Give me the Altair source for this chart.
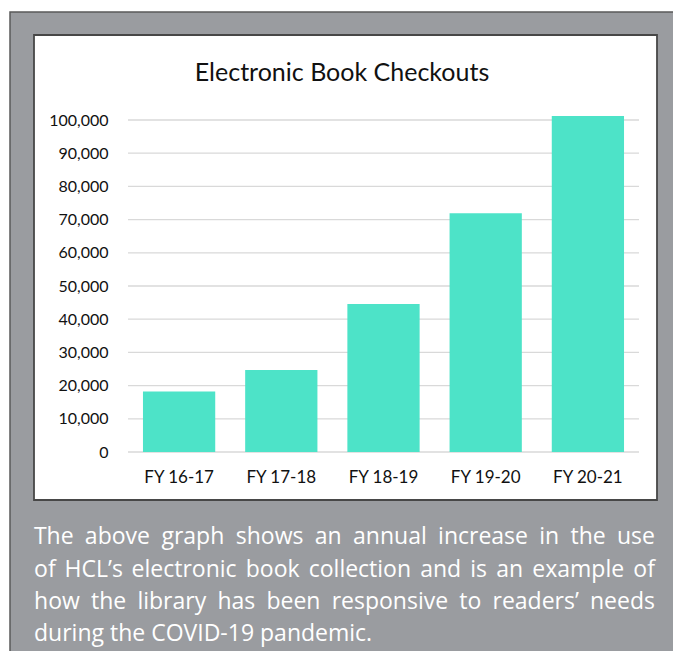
import altair as alt
import pandas as pd

# ---- data ----
years = ["FY 16-17", "FY 17-18", "FY 18-19", "FY 19-20", "FY 20-21"]
checkouts = [18200, 24700, 44600, 71900, 101200]
grid_values = [0, 10000, 20000, 30000, 40000, 50000, 60000, 70000, 80000, 90000, 100000]
title_text = "Electronic Book Checkouts"
caption_lines = [
    "The above graph shows an annual increase in the use",
    "of HCL\u2019s electronic book collection and is an example of",
    "how the library has been responsive to readers\u2019 needs",
    "during the COVID-19 pandemic.",
]

# ---- layout (page pixels) ----
PL, PT = 128, 120          # plot origin on page
W, H = 511, 332
FS = 23
CAP_LEFT, CAP_RIGHT = 34, 655
CAP_BASE = [544, 577, 609, 641]

# approx Open Sans advance widths (em)
cw = {
    'a': .556, 'b': .613, 'c': .476, 'd': .613, 'e': .561, 'f': .339, 'g': .548, 'h': .614,
    'i': .253, 'j': .253, 'k': .525, 'l': .253, 'm': .930, 'n': .614, 'o': .604, 'p': .613,
    'q': .613, 'r': .408, 's': .477, 't': .353, 'u': .614, 'v': .501, 'w': .778, 'x': .524,
    'y': .502, 'z': .468, 'T': .542, 'H': .722, 'C': .631, 'L': .511, 'O': .781, 'V': .589,
    'I': .278, 'D': .713, '-': .322, '1': .572, '9': .572, '.': .266, '\u2019': .170,
}


def wwidth(word):
    return sum(cw.get(ch, .55) for ch in word) * FS


rows = []
for li, line in enumerate(caption_lines[:3]):
    words = line.split(" ")
    widths = [wwidth(w) for w in words]
    gap = (CAP_RIGHT - CAP_LEFT - sum(widths)) / (len(words) - 1)
    x = CAP_LEFT
    for w, wd in zip(words, widths):
        rows.append({"word": w, "px": x + wd / 2 - PL, "py": CAP_BASE[li] - PT})
        x += wd + gap
words_df = pd.DataFrame(rows)

bars_df = pd.DataFrame({"year": years, "checkouts": checkouts})
grid_df = pd.DataFrame({"g": grid_values})

GRAY = "#9a9ca0"
BAR = "#4de3c8"

outer = alt.Chart(pd.DataFrame({"a": [0]})).mark_rect(
    fill=GRAY, stroke="#5a5a5a", strokeWidth=1.5
).encode(
    x=alt.value(10 - PL), x2=alt.value(679 - PL),
    y=alt.value(12 - PT), y2=alt.value(700 - PT),
)

panel = alt.Chart(pd.DataFrame({"a": [0]})).mark_rect(
    fill="white", stroke="#474747", strokeWidth=1.8
).encode(
    x=alt.value(34 - PL), x2=alt.value(657 - PL),
    y=alt.value(35 - PT), y2=alt.value(500 - PT),
)

ydom = alt.Scale(domain=[0, 100000], nice=False)

grid = alt.Chart(grid_df).mark_rule(color="#d9d9d9", strokeWidth=1.3).encode(
    y=alt.Y("g:Q", scale=ydom, axis=None),
    x=alt.value(0), x2=alt.value(W),
)

bars = alt.Chart(bars_df).mark_bar(color=BAR).encode(
    x=alt.X("year:N", sort=years, title="",
            scale=alt.Scale(paddingInner=0.293, paddingOuter=0.1465),
            axis=alt.Axis(labelAngle=0, domain=False, ticks=False, tickSize=0, grid=False,
                          labelFont="Lato", labelFontSize=17, labelColor="#111111",
                          labelPadding=17, zindex=1)),
    y=alt.Y("checkouts:Q", scale=ydom, title="",
            axis=alt.Axis(values=grid_values, format=",d", domain=False, ticks=False,
                          tickSize=0, grid=False, labelFont="Lato", labelFontSize=16,
                          labelColor="#111111", labelPadding=20, zindex=1)),
)

title = alt.Chart(pd.DataFrame({"t": [title_text]})).mark_text(
    font="Lato", fontSize=25, color="#111111", align="center", baseline="alphabetic"
).encode(
    text="t:N", x=alt.value(342 - PL), y=alt.value(81 - PT),
)

caption_words = alt.Chart(words_df).mark_text(
    font="Open Sans", fontSize=FS, color="#ffffff", align="center", baseline="alphabetic"
).encode(
    text="word:N",
    x=alt.X("px:Q", scale=None, axis=None),
    y=alt.Y("py:Q", scale=None, axis=None),
)

last_line = alt.Chart(pd.DataFrame({"t": [caption_lines[3]]})).mark_text(
    font="Open Sans", fontSize=FS, color="#ffffff", align="left", baseline="alphabetic"
).encode(
    text="t:N", x=alt.value(CAP_LEFT - PL), y=alt.value(CAP_BASE[3] - PT),
)

chart = alt.layer(outer, panel, grid, bars, title, caption_words, last_line).resolve_scale(
    x="independent", y="independent"
).properties(
    width=W, height=H,
    autosize=alt.AutoSizeParams(type="none"),
    padding={"left": PL - 8, "top": PT - 8, "right": 681 - 8 - PL - W, "bottom": 659 - 8 - PT - H},
).configure_view(stroke=None).configure(background="white")

chart.save("out.html", embed_options={"renderer": "svg", "actions": False})
